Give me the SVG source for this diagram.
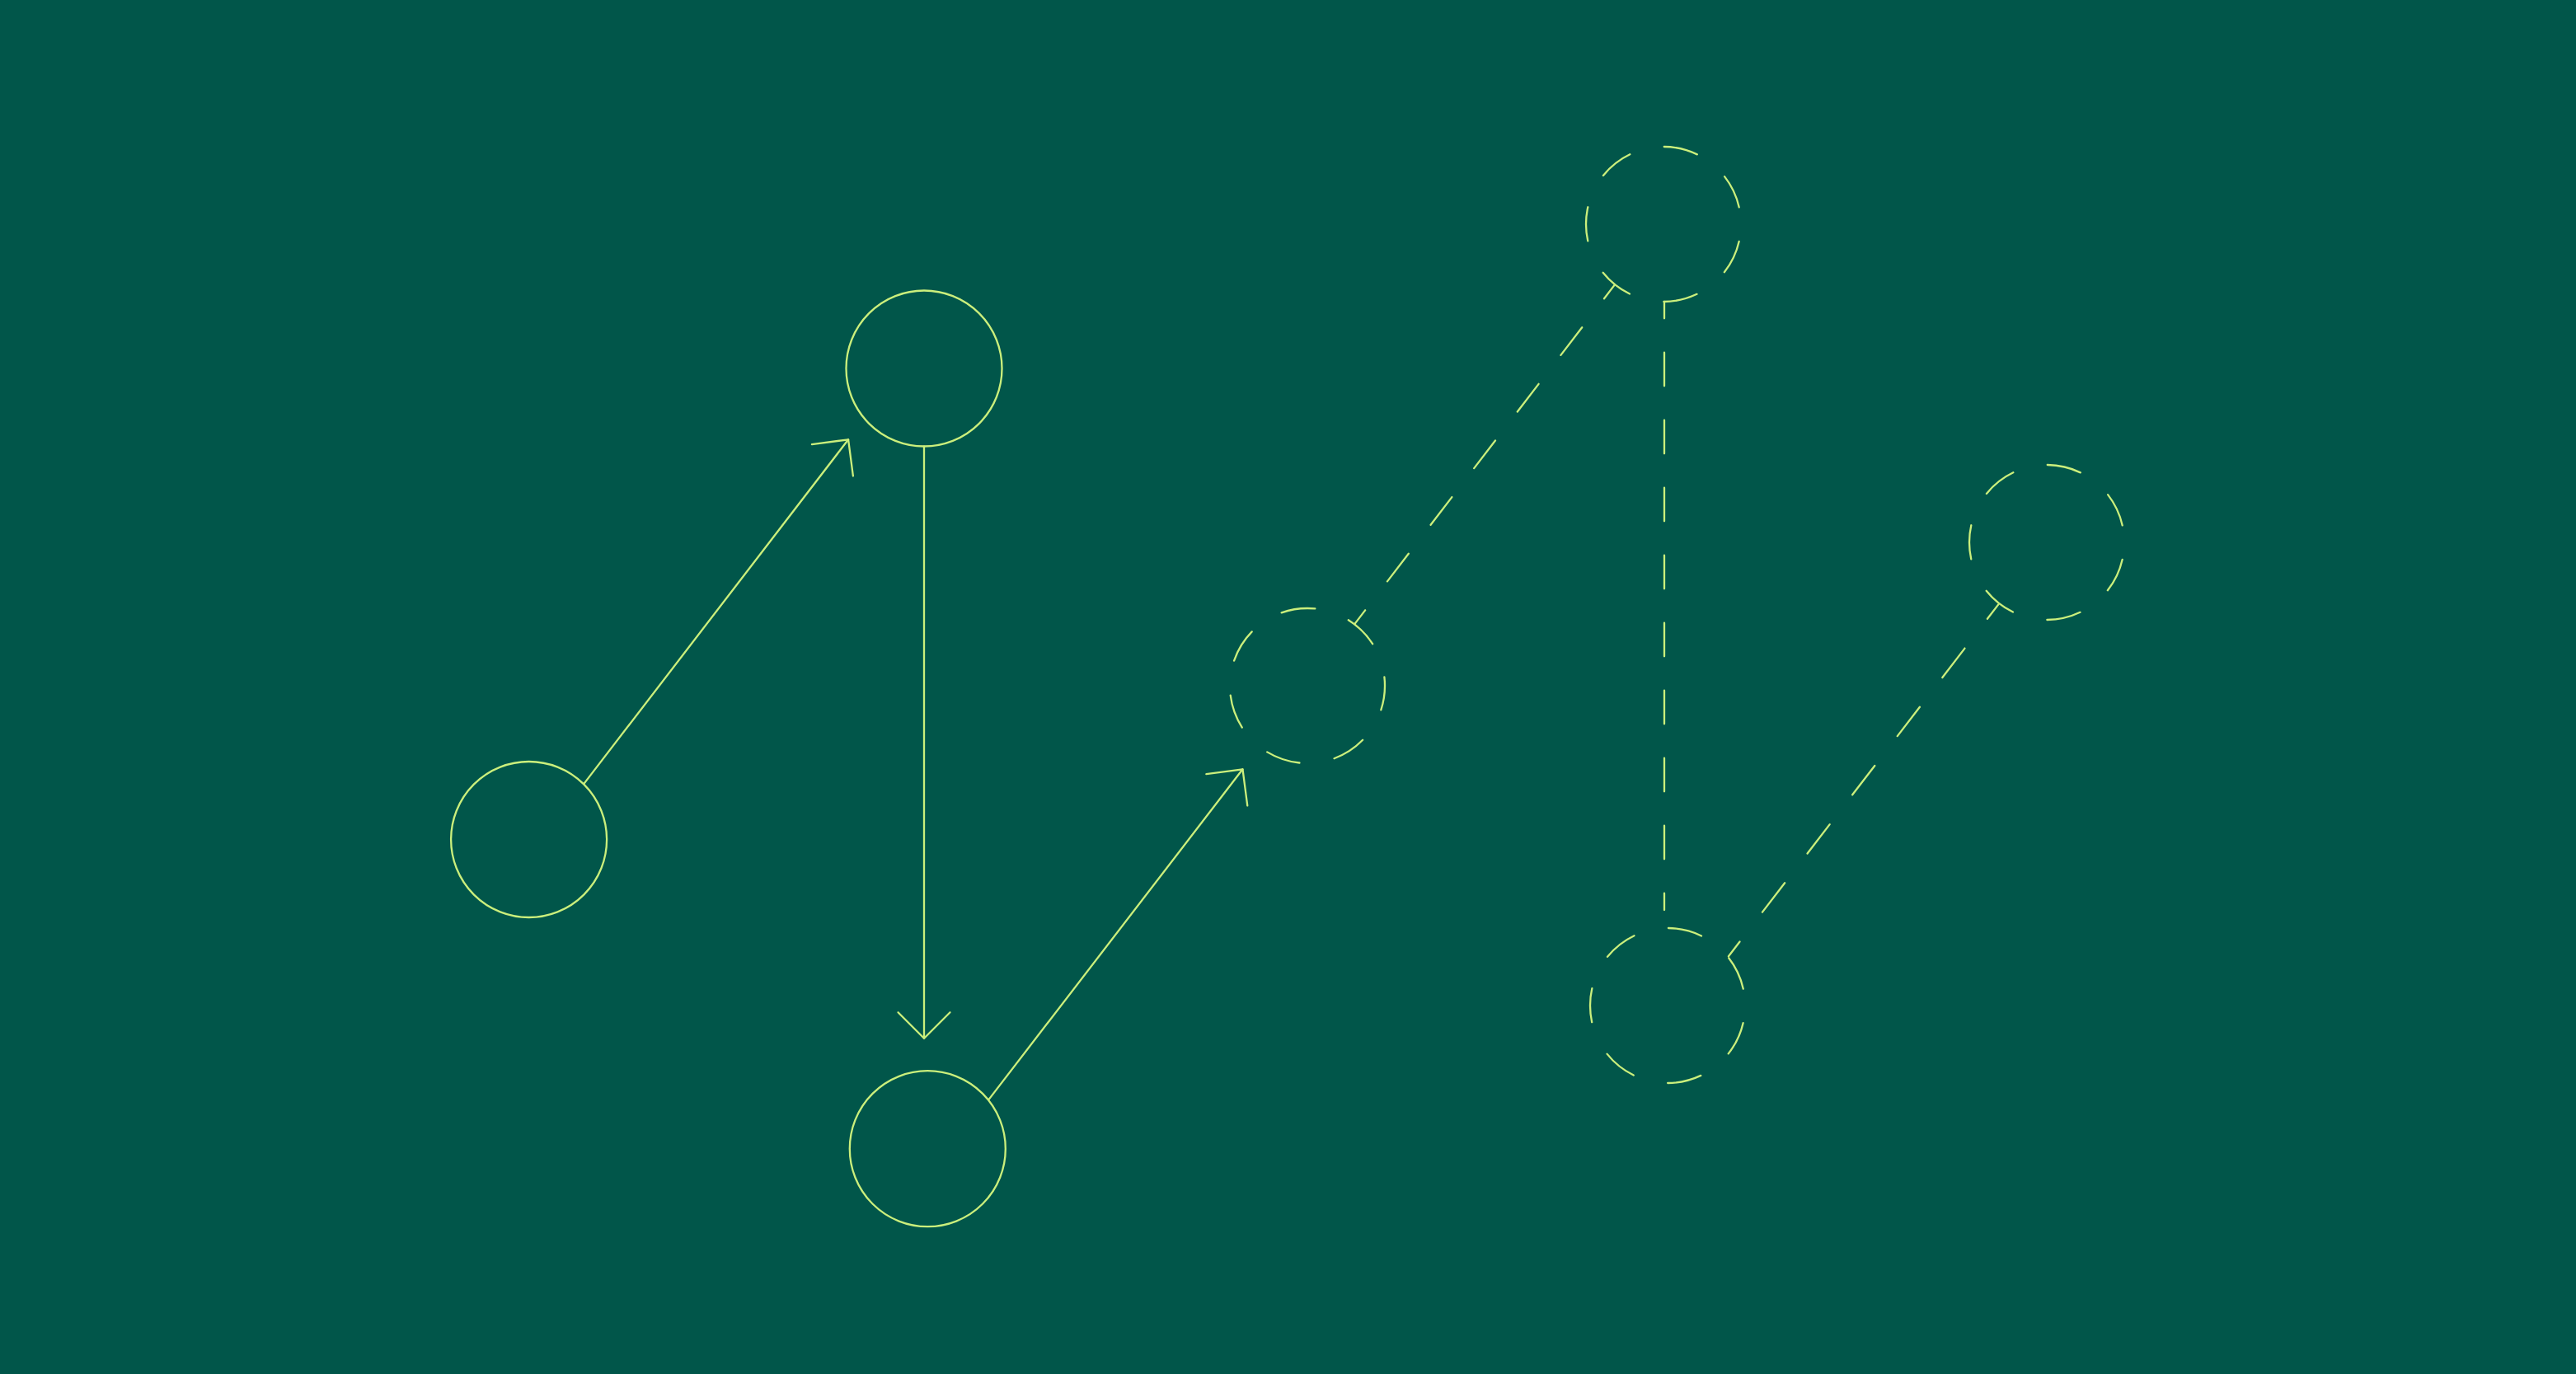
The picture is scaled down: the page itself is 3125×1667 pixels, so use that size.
<svg xmlns="http://www.w3.org/2000/svg" width="3125" height="1667" viewBox="0 0 3125 1667">
  <style>
    .s { fill: none; stroke: #cbef7c; stroke-width: 2.3; stroke-linecap: round; stroke-linejoin: round; }
    .dc { stroke-dasharray: 41.5 42.87; }
  </style>
  <defs>
    <marker id="ah" markerUnits="userSpaceOnUse" orient="auto" refX="0" refY="0" markerWidth="40" markerHeight="70" viewBox="-36 -35 40 70" overflow="visible">
      <path d="M -31.5 -31.5 L 0 0 L -31.5 31.5" fill="none" stroke="#cbef7c" stroke-width="2.3" stroke-linecap="round" stroke-linejoin="round"/>
    </marker>
  </defs>
  <rect x="0" y="0" width="3125" height="1667" fill="#01564a"/>

  <g id="connectors">
    <path class="s" d="M708.2 951.1 L1029.1 533.3" marker-end="url(#ah)"/>
    <path class="s" d="M1121 541.6 L1121 1259.7" marker-end="url(#ah)"/>
    <path class="s" d="M1199.8 1333.6 L1507.5 933.3" marker-end="url(#ah)"/>
    <path class="s" d="M1958.9 345.4 L1643.3 757.1" stroke-dasharray="42.4 44.07" stroke-dashoffset="21.2"/>
    <path class="s" d="M2019 366 L2019 1104" stroke-dasharray="40.5 41.5" stroke-dashoffset="20.25"/>
    <path class="s" d="M2424.5 733.1 L2096.9 1160.2" stroke-dasharray="44.6 45.1" stroke-dashoffset="22.3"/>
  </g>

  <g id="node-left">
    <circle class="s" cx="641.6" cy="1018.5" r="94.5"/>
  </g>
  <g id="node-top">
    <circle class="s" cx="1121" cy="447" r="94.5"/>
  </g>
  <g id="node-bottom">
    <circle class="s" cx="1125.3" cy="1393.7" r="94.5"/>
  </g>
  <g id="node-dashed-middle">
    <circle class="s dc" cx="1586" cy="832" r="94" stroke-dashoffset="11.6"/>
  </g>
  <g id="node-dashed-top">
    <circle class="s dc" cx="2018" cy="272" r="94" stroke-dashoffset="63.2"/>
  </g>
  <g id="node-dashed-bottom">
    <circle class="s dc" cx="2023" cy="1220" r="94" stroke-dashoffset="63"/>
  </g>
  <g id="node-dashed-right">
    <circle class="s dc" cx="2483" cy="658" r="94" stroke-dashoffset="63.2"/>
  </g>
</svg>
